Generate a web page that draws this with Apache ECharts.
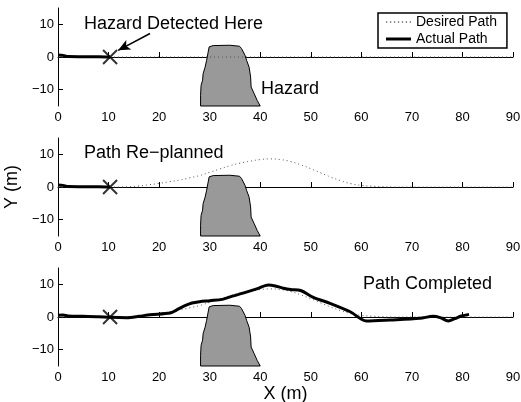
<!DOCTYPE html>
<html>
<head>
<meta charset="utf-8">
<script src="https://cdn.jsdelivr.net/npm/echarts@6/dist/echarts.min.js"></script>
<style>
  html, body { margin: 0; padding: 0; background: #fff; }
  #myEcharts { width: 521px; height: 402px; }
</style>
</head>
<body>
<div id="myEcharts"></div>
<script>
// values (metres)
const yTickValues = [-10, 0, 10];

const desiredX = [0, 10, 12, 14, 16, 18, 20, 22, 24, 26, 28, 30, 32, 34, 36, 38, 40, 42, 44, 46, 48, 50, 52, 54, 56, 58, 60, 62, 64, 66, 70, 80, 90];
const desiredStraightY = [0, 0, 0, 0, 0, 0, 0, 0, 0, 0, 0, 0, 0, 0, 0, 0, 0, 0, 0, 0, 0, 0, 0, 0, 0, 0, 0, 0, 0, 0, 0, 0, 0];
const desiredReplannedY = [0, 0, 0, 0.1, 0.3, 0.7, 1.1, 1.6, 2.1, 2.8, 3.5, 4.5, 5.5, 6.5, 7.3, 7.9, 8.4, 8.6, 8.4, 7.8, 6.8, 5.6, 4.3, 3.0, 1.9, 1.0, 0.5, 0.25, 0.1, 0, 0, 0, 0];

const actualStartX = [0, 1, 2, 5, 8, 10.3];
const actualStartY = [0.6, 0.5, 0.15, 0.1, 0.1, 0];

const actualFullX = [0, 1, 2, 5, 8, 10.3, 13.6, 16, 18.2, 22.2, 23.5, 25, 26.5, 28, 30, 32.5, 34.5, 36.6, 39.3, 41.6, 43, 44.6, 46, 48, 50.5, 53.8, 57.8, 61, 65.7, 71.6, 74.2, 75.6, 77.2, 78.5, 79.8, 81.3];
const actualFullY = [0.5, 0.6, 0.3, 0.2, 0.1, -0.1, -0.2, 0.2, 0.7, 1.2, 2.2, 3.4, 4.3, 4.7, 5, 5.4, 6.4, 7.3, 8.6, 9.8, 9.5, 8.8, 8.4, 8.1, 6, 4.2, 1.6, -1.2, -0.9, -0.4, 0.2, -0.2, -1.2, -0.5, 0.3, 0.8];

const hazardX = [28.2, 28.2, 28.3, 28.6, 28.7, 29.1, 29.4, 29.7, 29.9, 30.7, 34.0, 35.9, 36.3, 37.0, 37.3, 37.8, 38.1, 38.2, 38.8, 39.4, 40.0];
const hazardY = [-15, -11.7, -8.7, -7.1, -5.1, -3.1, -1, 1.5, 3.1, 3.5, 3.6, 3.3, 2.6, 0.5, -1, -3.1, -6.1, -9.2, -11.2, -13.3, -15];

const detectPoint = [10.3, 0];
const arrowFrom = [18.2, 7.2];
const arrowTo = [11.9, 2.05];

const FONT = 'Liberation Sans';
const pair = (xs, ys) => xs.map((x, i) => [x, ys[i]]);

const panelTops = [8, 138, 268];

const grids = panelTops.map(t => ({ left: 58, top: t, width: 455, height: 98, outerBoundsMode: 'none', containLabel: false }));

const xAxes = panelTops.map((t, i) => ({
  type: 'value', gridIndex: i, min: 0, max: 90, interval: 10,
  name: i === 2 ? 'X (m)' : '',
  nameLocation: 'middle', nameGap: 17,
  nameTextStyle: { color: '#000', fontSize: 18, fontFamily: FONT },
  axisLine: { show: true, lineStyle: { color: '#000', width: 1 } },
  axisTick: { show: true, inside: true, length: 5, lineStyle: { color: '#000' } },
  axisLabel: { color: '#000', fontSize: 13, fontFamily: FONT, margin: 5 },
  splitLine: { show: false }
}));

const yAxes = panelTops.map((t, i) => ({
  type: 'value', gridIndex: i, min: -15, max: 15,
  name: i === 1 ? 'Y (m)' : '',
  nameLocation: 'middle', nameGap: 31, nameRotate: 90,
  nameTextStyle: { color: '#000', fontSize: 18, fontFamily: FONT },
  axisLine: { show: true, lineStyle: { color: '#000', width: 1 } },
  axisTick: { show: true, inside: true, length: 5, customValues: yTickValues, lineStyle: { color: '#000' } },
  axisLabel: {
    color: '#000', fontSize: 13, fontFamily: FONT, margin: 4,
    customValues: yTickValues,
    formatter: v => String(v).replace('-', '\u2212')
  },
  splitLine: { show: false }
}));

const hazardSeries = i => ({
  type: 'custom', xAxisIndex: i, yAxisIndex: i, z: 1,
  data: pair(hazardX, hazardY),
  encode: { x: 0, y: 1 },
  renderItem: (params, api) => {
    if (params.dataIndex !== 0) return null;
    const pts = hazardX.map((x, k) => api.coord([x, hazardY[k]]));
    return {
      type: 'polygon',
      shape: { points: pts },
      style: { fill: '#999999', stroke: '#000', lineWidth: 1 }
    };
  },
  silent: true
});

const desiredSeries = (i, ys) => ({
  name: 'Desired Path', type: 'line', xAxisIndex: i, yAxisIndex: i, z: 3,
  data: pair(desiredX, ys), smooth: true, symbol: 'none',
  itemStyle: { color: '#666' },
  lineStyle: { color: '#555', width: 1, type: [1, 3] }
});

const actualSeries = (i, xs, ys) => ({
  name: 'Actual Path', type: 'line', xAxisIndex: i, yAxisIndex: i, z: 4,
  data: pair(xs, ys), smooth: 0.3, symbol: 'none',
  itemStyle: { color: '#000' },
  lineStyle: { color: '#000', width: 3 }
});

const markerSeries = i => ({
  type: 'scatter', xAxisIndex: i, yAxisIndex: i, z: 5,
  data: [detectPoint],
  symbol: 'path://M0 0L10 10M10 0L0 10', symbolSize: 14,
  itemStyle: { color: 'transparent', borderColor: '#000', borderWidth: 2 },
  silent: true
});

const series = [
  hazardSeries(0), desiredSeries(0, desiredStraightY), actualSeries(0, actualStartX, actualStartY), markerSeries(0),
  hazardSeries(1), desiredSeries(1, desiredReplannedY), actualSeries(1, actualStartX, actualStartY), markerSeries(1),
  hazardSeries(2), desiredSeries(2, desiredReplannedY), actualSeries(2, actualFullX, actualFullY), markerSeries(2)
];

// arrow pointing at detection spot
series[3].markLine = {
  silent: true, symbol: ['none', 'arrow'], symbolSize: [8, 12],
  lineStyle: { color: '#000', width: 1.5, type: 'solid' },
  label: { show: false },
  data: [[{ coord: arrowFrom }, { coord: arrowTo }]]
};

// legend icons: a dotted row and a thick bar
let dots = '';
for (let k = 0; k <= 24; k += 4) dots += 'M' + k + ' 0h1.3v1.3h-1.3z';
const dottedIcon = 'path://' + dots;
const barIcon = 'path://M0 0h25v3h-25z';

const textStyle = { fill: '#000', fontSize: 18, fontFamily: FONT };

let chart = echarts.init(document.getElementById('myEcharts'));
chart.setOption({
  animation: false,
  backgroundColor: '#fff',
  grid: grids,
  xAxis: xAxes,
  yAxis: yAxes,
  legend: {
    data: [{ name: 'Desired Path', icon: dottedIcon }, { name: 'Actual Path', icon: barIcon }],
    orient: 'vertical', left: 378, top: 13,
    borderColor: '#000', borderWidth: 1.5, borderRadius: 0,
    padding: [2, 10, 2, 8], itemGap: 3, itemWidth: 25, itemHeight: 12,
    textStyle: { color: '#000', fontSize: 14, fontFamily: FONT },
    selectedMode: false
  },
  graphic: [
    { type: 'text', left: 84, top: 15, style: Object.assign({ text: 'Hazard Detected Here' }, textStyle) },
    { type: 'text', left: 261, top: 80, style: Object.assign({ text: 'Hazard' }, textStyle) },
    { type: 'text', left: 84, top: 144, style: Object.assign({ text: 'Path Re\u2212planned' }, textStyle) },
    { type: 'text', left: 363, top: 275, style: Object.assign({ text: 'Path Completed' }, textStyle) }
  ],
  series: series
});

window.onresize = function () {
  chart.resize();
};
</script>
</body>
</html>
